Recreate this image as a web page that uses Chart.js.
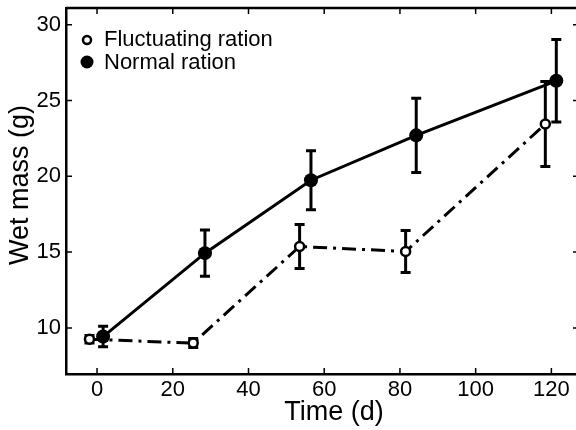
<!DOCTYPE html>
<html>
<head>
<meta charset="utf-8">
<script src="https://cdn.jsdelivr.net/npm/chart.js@4"></script>
<style>
  html, body { margin: 0; padding: 0; background: #fff; }
  #wrap { width: 576px; height: 430px; }
</style>
</head>
<body>
<div id="wrap"><canvas id="chart" width="576" height="430"></canvas></div>
<script>
// values
const fluctDays = [-2, 25.4, 53.5, 81.5, 118.4];
const fluctMass = [9.25, 9.0, 15.37, 15.04, 23.45];
const fluctErr = [0.25, 0.3, 1.45, 1.38, 2.8];

const normalDays = [1.6, 28.5, 56.5, 84.3, 121.3];
const normalMass = [9.43, 14.93, 19.74, 22.7, 26.3];
const normalErr = [0.68, 1.52, 1.95, 2.45, 2.72];

const xTicks = [0, 20, 40, 60, 80, 100, 120];
const yTicks = [10, 15, 20, 25, 30];

const FONT = "'Liberation Sans', Arial, Helvetica, sans-serif";

function toPoints(xs, ys) {
    return xs.map((x, i) => ({ x: x, y: ys[i] }));
}

function noPadding(s) {
    s.paddingLeft = 0;
    s.paddingRight = 0;
    s.paddingTop = 0;
    s.paddingBottom = 0;
}

const errorBars = {
    id: "errorBars",
    beforeDatasetsDraw(chart) {
        const ctx = chart.ctx;
        const xs = chart.scales.x;
        const ys = chart.scales.y;
        ctx.save();
        ctx.strokeStyle = "#000";
        ctx.lineWidth = 3;
        chart.data.datasets.forEach(ds => {
            ds.data.forEach((p, i) => {
                const px = xs.getPixelForValue(p.x);
                const top = ys.getPixelForValue(p.y + ds.errors[i]);
                const bot = ys.getPixelForValue(p.y - ds.errors[i]);
                ctx.beginPath();
                ctx.moveTo(px, top);
                ctx.lineTo(px, bot);
                ctx.moveTo(px - 5, top);
                ctx.lineTo(px + 5, top);
                ctx.moveTo(px - 5, bot);
                ctx.lineTo(px + 5, bot);
                ctx.stroke();
            });
        });
        ctx.restore();
    }
};

const decorations = {
    id: "decorations",
    afterDraw(chart) {
        const ctx = chart.ctx;
        const area = chart.chartArea;
        const xs = chart.scales.x;
        const ys = chart.scales.y;
        ctx.save();
        ctx.strokeStyle = "#000";
        ctx.lineWidth = 2.5;

        // top frame (the right one falls just outside the picture)
        ctx.beginPath();
        ctx.moveTo(area.left, area.top);
        ctx.lineTo(area.right, area.top);
        ctx.stroke();

        // inward ticks
        ctx.lineWidth = 1.5;
        ctx.beginPath();
        xTicks.forEach(v => {
            const px = xs.getPixelForValue(v);
            ctx.moveTo(px, area.bottom);
            ctx.lineTo(px, area.bottom - 6);
            ctx.moveTo(px, area.top);
            ctx.lineTo(px, area.top + 6);
        });
        yTicks.forEach(v => {
            const py = ys.getPixelForValue(v);
            ctx.moveTo(area.left, py);
            ctx.lineTo(area.left + 6, py);
            ctx.moveTo(area.right, py);
            ctx.lineTo(area.right - 3, py);
        });
        ctx.stroke();

        // legend
        ctx.fillStyle = "#000";
        ctx.font = "22px " + FONT;
        ctx.textBaseline = "middle";
        ctx.textAlign = "left";
        ctx.lineWidth = 2.5;
        ctx.beginPath();
        ctx.arc(87, 40, 4, 0, Math.PI * 2);
        ctx.stroke();
        ctx.beginPath();
        ctx.arc(87, 62, 6.5, 0, Math.PI * 2);
        ctx.fill();
        ctx.fillText("Fluctuating ration", 104, 40);
        ctx.fillText("Normal ration", 104, 63);

        // axis titles
        ctx.font = "27px " + FONT;
        ctx.textAlign = "center";
        ctx.fillText("Time (d)", 334, 413);
        ctx.translate(21, 185);
        ctx.rotate(-Math.PI / 2);
        ctx.fillText("Wet mass (g)", 0, 0);
        ctx.restore();
    }
};

new Chart(document.getElementById("chart"), {
    type: "scatter",
    data: {
        datasets: [
            {
                label: "Fluctuating ration",
                data: toPoints(fluctDays, fluctMass),
                errors: fluctErr,
                showLine: true,
                borderColor: "#000",
                borderWidth: 3,
                borderDash: [14, 6, 3, 6],
                pointRadius: 4.5,
                pointBorderWidth: 2.5,
                pointBackgroundColor: "#fff",
                pointBorderColor: "#000"
            },
            {
                label: "Normal ration",
                data: toPoints(normalDays, normalMass),
                errors: normalErr,
                showLine: true,
                borderColor: "#000",
                borderWidth: 3,
                pointRadius: 7,
                pointBorderWidth: 0,
                pointBackgroundColor: "#000",
                pointBorderColor: "#000"
            }
        ]
    },
    options: {
        responsive: false,
        animation: false,
        layout: {
            autoPadding: false,
            padding: { top: 8, right: 0, left: 0, bottom: 0 }
        },
        plugins: {
            legend: { display: false },
            tooltip: { enabled: false }
        },
        scales: {
            x: {
                type: "linear",
                min: -8.2,
                max: 126.5,
                afterBuildTicks: s => { s.ticks = xTicks.map(v => ({ value: v })); },
                afterFit: s => { s.height = 56; noPadding(s); },
                grid: { display: false, drawTicks: false },
                border: { display: true, color: "#000", width: 2.5 },
                ticks: {
                    color: "#000",
                    padding: 3,
                    maxRotation: 0,
                    font: { family: FONT, size: 22 }
                }
            },
            y: {
                min: 6.96,
                max: 31.1,
                afterBuildTicks: s => { s.ticks = yTicks.map(v => ({ value: v })); },
                afterFit: s => { s.width = 66; noPadding(s); },
                grid: { display: false, drawTicks: false },
                border: { display: true, color: "#000", width: 2.5 },
                ticks: {
                    color: "#000",
                    padding: 5,
                    font: { family: FONT, size: 22 }
                }
            }
        }
    },
    plugins: [errorBars, decorations]
});
</script>
</body>
</html>
